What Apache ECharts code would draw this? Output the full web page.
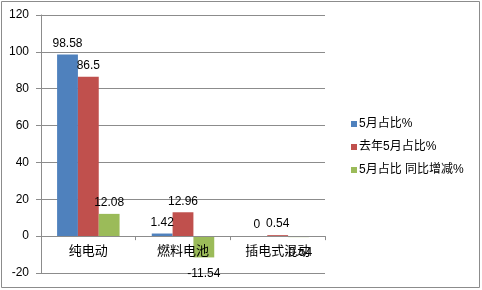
<!DOCTYPE html>
<html>
<head>
<meta charset="utf-8">
<script src="https://cdn.jsdelivr.net/npm/echarts@6/dist/echarts.min.js"></script>
<style>
html,body{margin:0;padding:0;background:#fff;}
#c{width:482px;height:290px;}
</style>
</head>
<body>
<div id="c"></div>
<script>
var categories = ['纯电动', '燃料电池', '插电式混动'];
var seriesNames = ['5月占比%', '去年5月占比%', '5月占比 同比增减%'];
var share2024 = [98.58, 1.42, 0];
var shareLastYear = [86.5, 12.96, 0.54];
var shareChange = [12.08, -11.54, -0.54];
var yTicks = [-20, 0, 20, 40, 60, 80, 100, 120];

var colors = ['#4F81BD', '#C0504D', '#9BBB59'];
var font = 'Arial, "Liberation Sans", "Noto Sans CJK SC", sans-serif';

function toData(arr) {
  return arr.map(function (v) {
    return v < 0
      ? { value: v, label: { position: 'bottom', distance: 10 } }
      : { value: v, label: { position: 'top', distance: 5 } };
  });
}

var chart = echarts.init(document.getElementById('c'), null, { renderer: 'canvas' });
var valueSets = [share2024, shareLastYear, shareChange];
var series = valueSets.map(function (vals, i) {
  return {
    name: seriesNames[i],
    type: 'bar',
    data: toData(vals),
    itemStyle: { color: colors[i] },
    barGap: '0%',
    barCategoryGap: '34%',
    label: {
      show: true,
      color: '#000',
      fontSize: 12,
      fontFamily: font
    }
  };
});

chart.setOption({
  animation: false,
  backgroundColor: '#fff',
  graphic: [{
    type: 'rect',
    shape: { x: 1.5, y: 1.5, width: 478, height: 286 },
    style: { fill: 'none', stroke: '#8c8c8c', lineWidth: 1 },
    silent: true
  }],
  grid: { left: 41, top: 15, width: 284, bottom: 17, containLabel: false, outerBoundsMode: 'none' },
  legend: {
    orient: 'vertical',
    left: 346,
    top: 113,
    itemWidth: 6,
    itemHeight: 6,
    itemGap: 11,
    icon: 'rect',
    textStyle: { fontSize: 12, fontFamily: font, color: '#000', padding: [0, 0, 0, -3] },
    data: seriesNames
  },
  xAxis: {
    type: 'category',
    z: 10,
    data: categories,
    axisLine: { onZero: true, lineStyle: { color: '#8c8c8c', width: 1 } },
    axisTick: { show: true, length: 4, alignWithLabel: false, lineStyle: { color: '#8c8c8c' } },
    axisLabel: { fontSize: 13, fontFamily: font, color: '#000', margin: -28 }
  },
  yAxis: {
    type: 'value',
    min: yTicks[0],
    max: yTicks[yTicks.length - 1],
    interval: yTicks[1] - yTicks[0],
    axisLine: { show: true, lineStyle: { color: '#8c8c8c', width: 1 } },
    axisTick: { show: true, length: 5, lineStyle: { color: '#8c8c8c' } },
    axisLabel: { fontSize: 12, fontFamily: font, color: '#000', margin: 12 },
    splitLine: { show: true, lineStyle: { color: '#8c8c8c', width: 1 } }
  },
  series: series
});
</script>
</body>
</html>
